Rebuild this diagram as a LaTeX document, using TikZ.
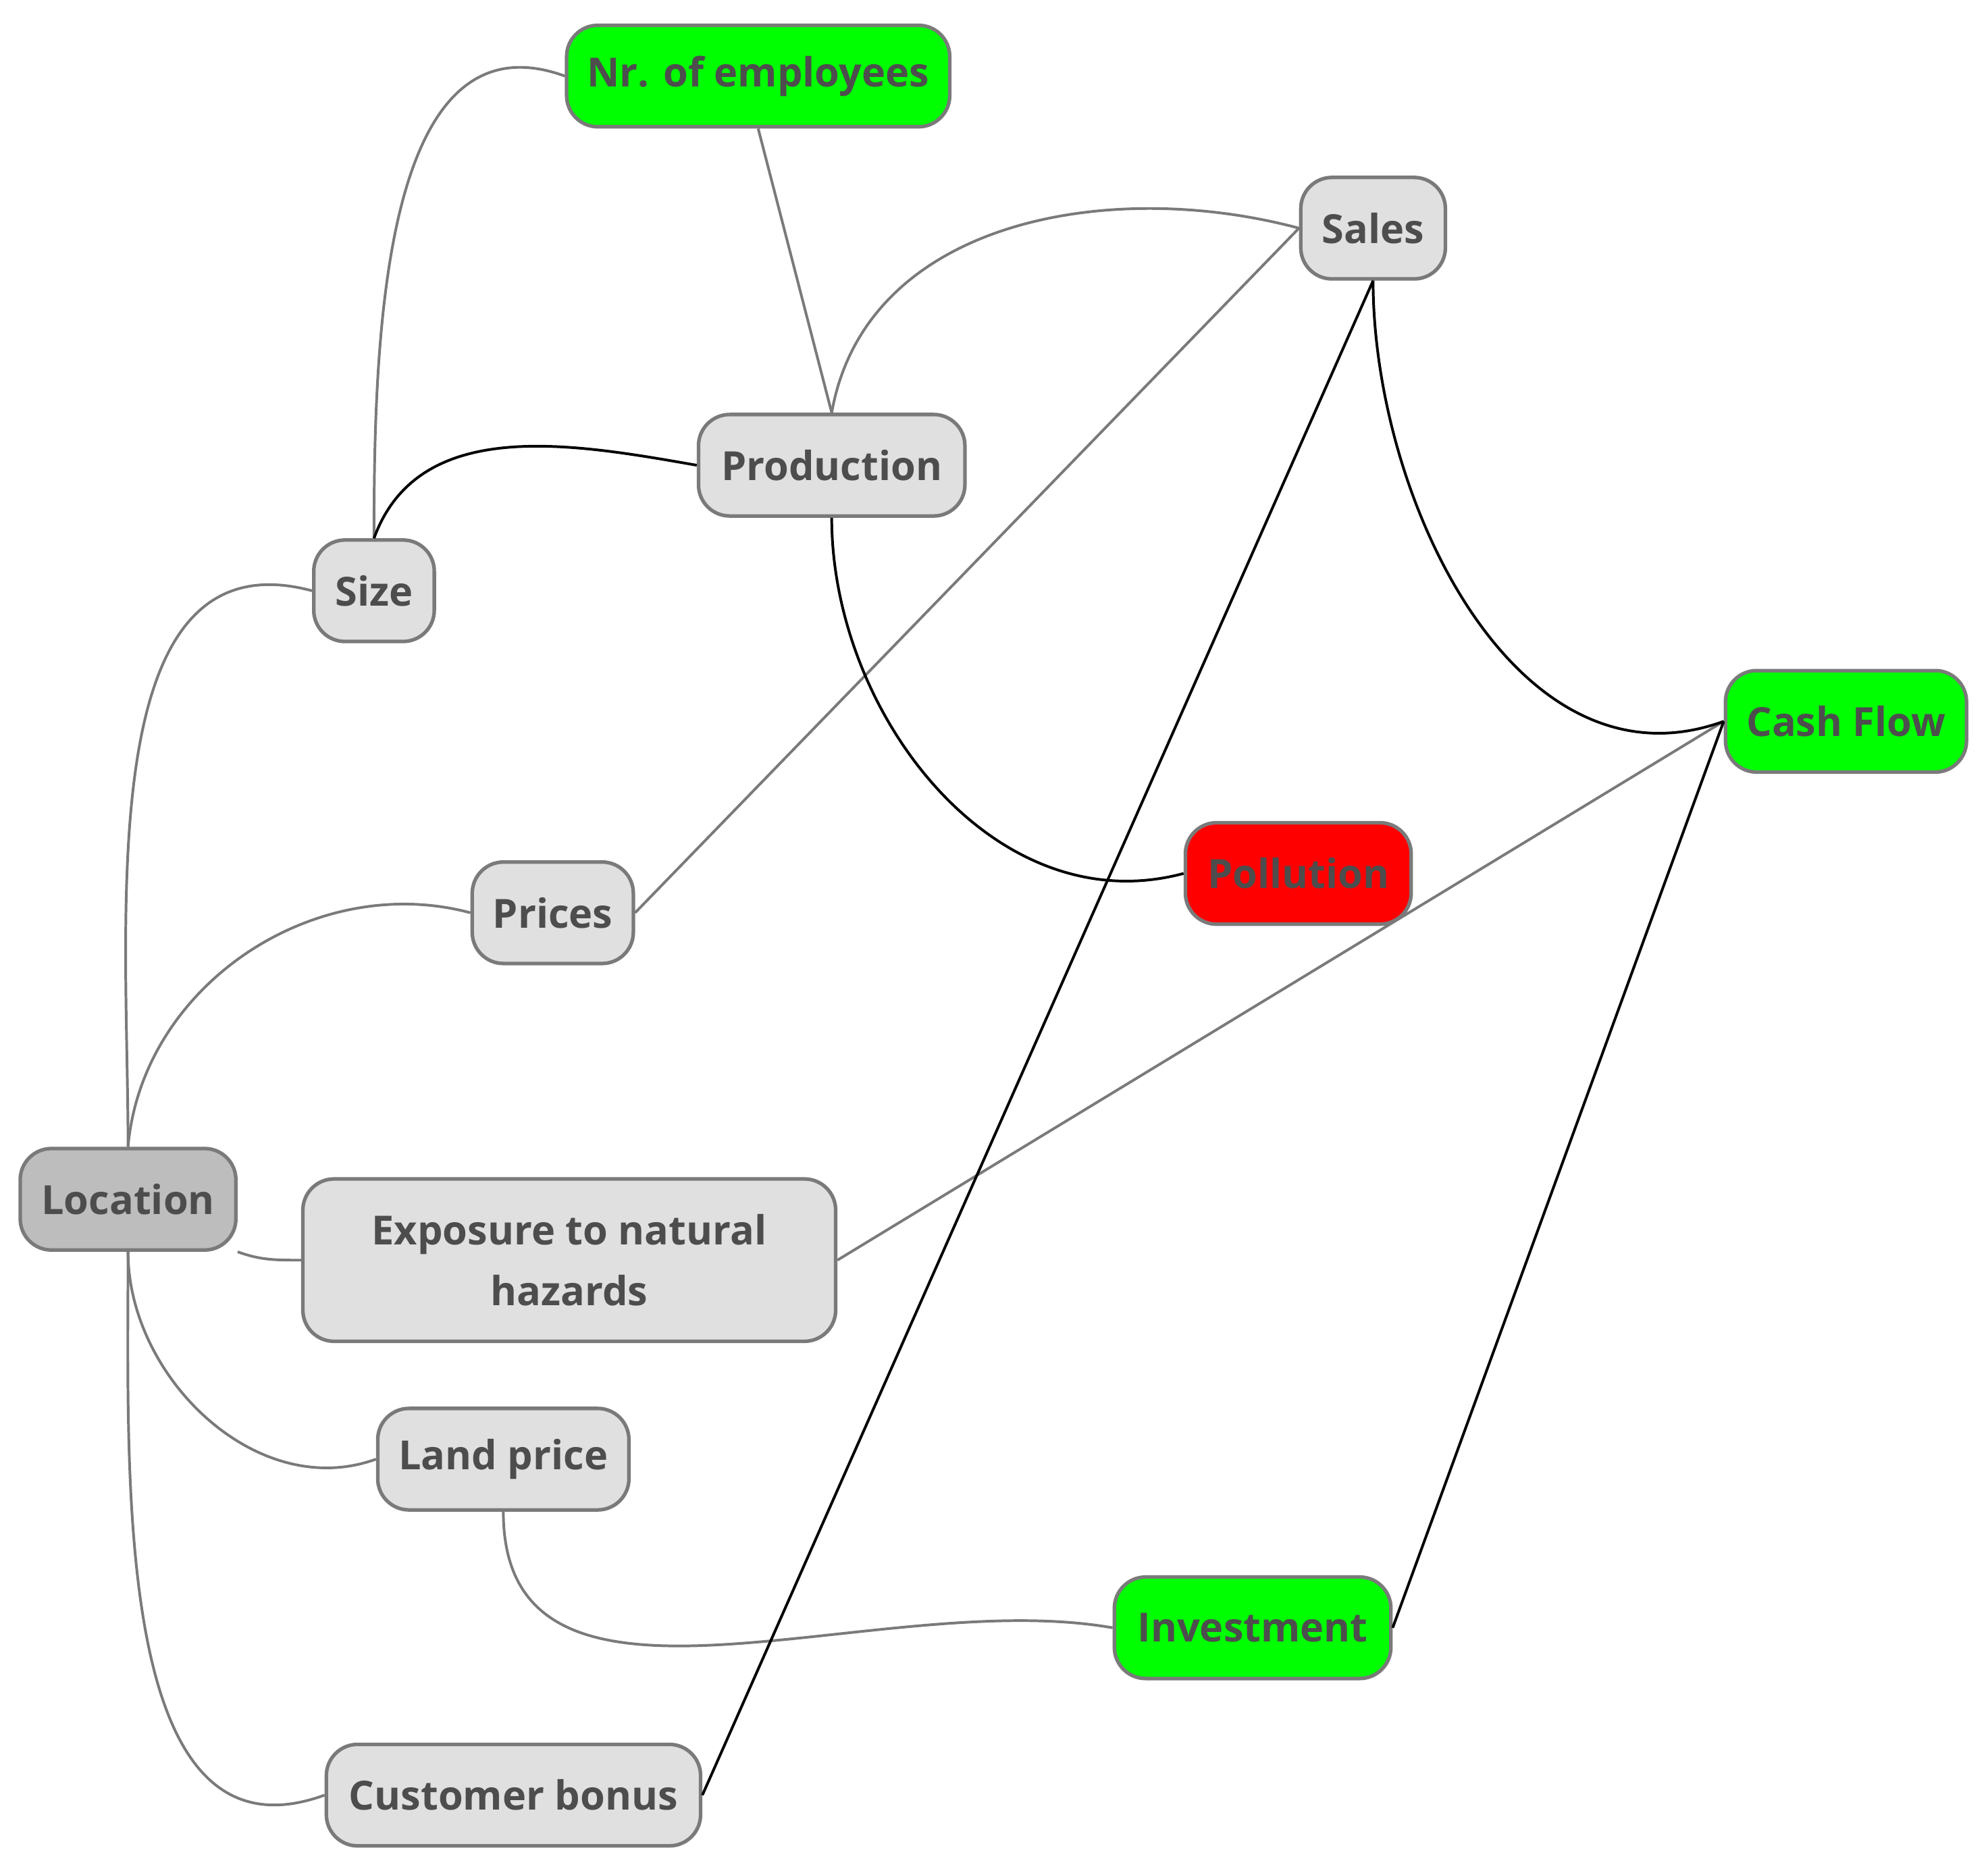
\documentclass[tikz,border=0pt]{standalone}
\usepackage{fontspec}
\setmainfont{Open Sans}
\usetikzlibrary{positioning}
\definecolor{boxgray}{HTML}{E0E0E0}
\definecolor{locgray}{HTML}{BDBDBD}
\definecolor{edgegray}{HTML}{7A7A7A}
\definecolor{txtgray}{HTML}{4D4D4D}
\tikzset{
  box/.style={draw=edgegray, line width=0.8pt, rounded corners=7pt, fill=boxgray,
    minimum height=0.8cm, align=center, text=txtgray,
    font=\fontsize{9}{13.5}\selectfont\bfseries},
  good/.style={box, fill=green},
  bad/.style={box, fill=red},
  soft/.style={draw=edgegray, line width=0.6pt},
  hard/.style={draw=black, line width=0.6pt}
}
\begin{document}
\begin{tikzpicture}[x=0.01cm, y=-0.01cm]
        \useasboundingbox (0,0) rectangle (1568,1474);
        \node[good, minimum width=3.02cm] (nr) at (598,60) {Nr. of employees};
        \node[box, minimum width=1.14cm] (sales) at (1083,180) {Sales};
        \node[box, minimum width=2.10cm] (prod) at (656,367) {Production};
        \node[box, minimum width=0.95cm] (size) at (295,466) {Size};
        \node[good, minimum width=1.90cm] (cash) at (1456,569) {Cash Flow};
        \node[bad, minimum width=1.78cm] (poll) at (1024,689) {Pollution};
        \node[box, minimum width=1.27cm] (prices) at (436,720) {Prices};
        \node[box, fill=locgray, minimum width=1.70cm] (loc) at (101,946) {Location};
        \node[box, minimum width=4.20cm, minimum height=1.28cm] (expo) at (449,994) {Exposure to natural\\hazards};
        \node[box, minimum width=1.98cm] (land) at (397,1151) {Land price};
        \node[good, minimum width=2.18cm] (inv) at (988,1284) {Investment};
        \node[box, minimum width=2.95cm] (bonus) at (405,1416) {Customer bonus};

        % gray links
        \draw[soft] (size.north) to[out=90, in=160] (nr.west);
        \draw[soft] (nr.south) -- (prod.north);
        \draw[soft] (prod.north) to[out=80, in=165] (sales.west);
        \draw[soft] (loc.north) to[out=90, in=165] (size.west);
        \draw[soft] (loc.north) to[out=85, in=165] (prices.west);
        \draw[soft] (prices.east) -- (sales.west);
        \draw[soft] (loc.south east) to[out=-20, in=180] (expo.west);
        \draw[soft] (loc.south) to[out=-90, in=200] (land.west);
        \draw[soft] (loc.south) to[out=-90, in=200] (bonus.west);
        \draw[soft] (land.south) to[out=-90, in=170] (inv.west);
        \draw[soft] (expo.east) -- (cash.west);

        % black links
        \draw[hard] (size.north) to[out=70, in=170] (prod.west);
        \draw[hard] (prod.south) to[out=-90, in=195] (poll.west);
        \draw[hard] (sales.south) to[out=-90, in=200] (cash.west);
        \draw[hard] (sales.south) -- (bonus.east);
        \draw[hard] (inv.east) -- (cash.west);
    \end{tikzpicture}
\end{document}
